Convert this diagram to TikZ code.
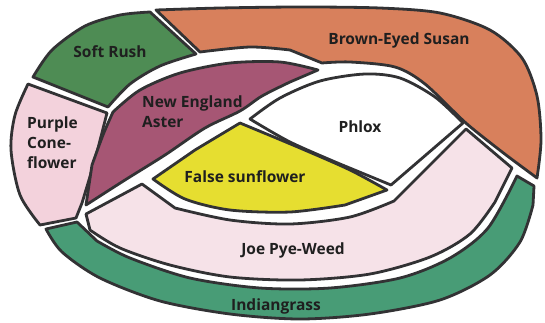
\documentclass[tikz,border=0pt]{standalone}
\usepackage{fontspec}
\setmainfont{Open Sans}
\usepackage{xcolor}
\usetikzlibrary{positioning}

\definecolor{rimgray}{RGB}{50,50,52}
\definecolor{rushgreen}{RGB}{78,140,84}
\definecolor{susanorange}{RGB}{216,128,92}
\definecolor{astermaroon}{RGB}{166,86,116}
\definecolor{conepink}{RGB}{243,210,220}
\definecolor{sunyellow}{RGB}{230,222,48}
\definecolor{joepink}{RGB}{246,226,232}
\definecolor{grassgreen}{RGB}{72,156,118}

\begin{document}
\begin{tikzpicture}[
		x=1pt,y=-1pt,
		bed/.style={
			draw=rimgray,
			line width=2.8pt,
			line join=round
		},
		label/.style={
			font=\bfseries\fontsize{15.5}{20}\selectfont,
			text=black!88,
			align=left,
			inner sep=0pt
		}
		]
		
		\useasboundingbox (0,0) rectangle (545,322);
		
		% beds, outer ring first
		\draw[bed,fill=rushgreen]
		plot[smooth] coordinates {(33,77) (52,50) (85,26) (120,15) (150,12)}
		-- plot[smooth] coordinates {(196,54) (160,66) (130,84) (108,107)}
		-- cycle;
		
		\draw[bed,fill=susanorange]
		plot[smooth] coordinates {(156,10) (220,8) (300,7) (380,8) (440,13) (490,30) (522,58) (537,96) (541,140) (537,178)}
		-- plot[smooth] coordinates {(510,158) (467,124) (425,84) (395,67) (350,62) (322,63)}
		-- plot[smooth] coordinates {(290,50) (250,47) (200,52)}
		-- cycle;
		
		\draw[bed,fill=conepink]
		plot[smooth] coordinates {(28,84) (15,115) (11,150) (20,195) (40,225)}
		-- (76,218) -- (82,203)
		-- plot[smooth] coordinates {(95,160) (107,113)}
		-- cycle;
		
		\draw[bed,fill=astermaroon]
		plot[smooth] coordinates {(113,112) (140,90) (180,73) (230,63) (280,62) (318,70)}
		-- plot[smooth] coordinates {(290,82) (262,96) (240,111) (205,128) (165,155) (125,180) (86,205)}
		-- plot[smooth] coordinates {(92,165) (103,135) (113,112)}
		-- cycle;
		
		\draw[bed,fill=white]
		plot[smooth] coordinates {(250,119) (280,98) (320,81) (365,74) (400,78) (435,97) (463,123)}
		-- (391,185)
		-- plot[smooth] coordinates {(340,164) (290,142) (250,119)}
		-- cycle;
		
		\draw[bed,fill=sunyellow]
		plot[smooth] coordinates {(240,123) (300,148) (350,170) (387,190)}
		-- plot[smooth] coordinates {(345,205) (290,212) (230,210) (185,199) (153,179)}
		-- plot[smooth] coordinates {(195,150) (240,123)}
		-- cycle;
		
		\draw[bed,fill=joepink]
		(86,214) -- (142,184)
		-- plot[smooth] coordinates {(175,208) (230,220) (290,224) (350,217) (394,201)}
		-- (466,129) -- (512,168)
		-- plot[smooth] coordinates {(495,202) (470,234) (430,257) (370,274) (300,280) (230,277) (170,265) (120,248) (90,230)}
		-- cycle;
		
		\draw[bed,fill=grassgreen]
		(46,229) -- (77,222)
		-- plot[smooth] coordinates {(97,241) (130,258) (190,278) (260,288) (330,288) (400,278) (450,258) (488,228) (517,176)}
		-- (534,186)
		-- plot[smooth] coordinates {(533,205) (520,242) (490,275) (440,300) (370,314) (300,319) (230,314) (160,301) (100,278) (62,252) (46,229)}
		-- cycle;
		
		% names of the plants
		\node[label] (rush) at (110,52) {Soft Rush};
		\node[label] (susan) at (399,40) {Brown-Eyed Susan};
		\node[label,anchor=west] (aster) at (142,112) {New England\\Aster};
		\node[label,anchor=west] (cone) at (27,143) {Purple\\Cone-\\flower};
		\node[label] (phlox) at (360,127) {Phlox};
		\node[label] (sunflower) at (245,177) {False sunflower};
		\node[label] (joepye) at (293,250) {Joe Pye-Weed};
		\node[label] (grass) at (276,306) {Indiangrass};
		
	\end{tikzpicture}
\end{document}
